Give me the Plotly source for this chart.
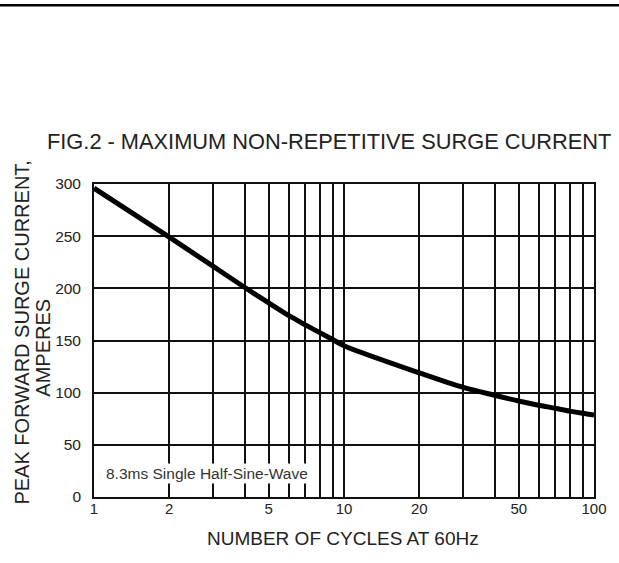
import plotly.graph_objects as go

# Data
cycles = [1, 2, 3, 4, 5, 6, 7, 8, 9, 10, 20, 30, 40, 50, 60, 70, 80, 90, 100]
surge_current = [296, 249, 221, 201, 186, 174, 165, 157.5, 151, 145,
                 119, 105, 97.5, 92, 88, 85, 82.3, 80.2, 78.5]

x_grid_vals = [1, 2, 3, 4, 5, 6, 7, 8, 9, 10, 20, 30, 40, 50, 60, 70, 80, 90, 100]
x_labeled = [1, 2, 5, 10, 20, 50, 100]
y_tick_vals = [0, 50, 100, 150, 200, 250, 300]

title_text = "FIG.2 - MAXIMUM NON-REPETITIVE SURGE CURRENT"
x_title = "NUMBER OF CYCLES AT 60Hz"
y_title_1 = "PEAK FORWARD SURGE CURRENT,"
y_title_2 = "AMPERES"
note_text = "8.3ms Single Half-Sine-Wave"

FONT = "Liberation Sans, Arial, sans-serif"
TXT = "#222222"
GRID = "#111111"

W, H = 619, 563
L, R, T, B = 94, 14, 184, 66
PW, PH = W - L - R, H - T - B


def px_x(X):
    return (X - L) / PW


def px_y(Y):
    return (H - B - Y) / PH


fig = go.Figure()
fig.add_trace(go.Scatter(
    x=cycles, y=surge_current, mode="lines",
    line=dict(color="black", width=5, shape="spline", smoothing=0.9),
    showlegend=False, hoverinfo="skip",
))

fig.update_layout(
    width=W, height=H, autosize=False,
    margin=dict(l=L, r=R, t=T, b=B),
    paper_bgcolor="white", plot_bgcolor="white",
    font=dict(family=FONT, color=TXT),
    xaxis=dict(
        type="log", range=[0, 2],
        tickvals=x_grid_vals,
        ticktext=[str(v) if v in x_labeled else "" for v in x_grid_vals],
        showgrid=True, gridcolor=GRID, gridwidth=1.5,
        showline=True, linecolor=GRID, linewidth=1.8, mirror=True,
        ticks="", ticklabelstandoff=-3,
        tickfont=dict(size=15, color=TXT, family=FONT),
        zeroline=False,
    ),
    yaxis=dict(
        range=[0, 300], tickvals=y_tick_vals,
        showgrid=True, gridcolor=GRID, gridwidth=1.5,
        showline=True, linecolor=GRID, linewidth=1.8, mirror=True,
        ticks="", ticklabelstandoff=8,
        tickfont=dict(size=15.5, color=TXT, family=FONT),
        zeroline=False,
    ),
)

# Title
fig.add_annotation(text=title_text, xref="paper", yref="paper",
                   x=px_x(334), y=px_y(141.5), xanchor="center", yanchor="middle",
                   showarrow=False, font=dict(size=21.8, color=TXT, family=FONT))
# X axis title
fig.add_annotation(text=x_title, xref="paper", yref="paper",
                   x=px_x(348), y=px_y(538), xanchor="center", yanchor="middle",
                   showarrow=False, font=dict(size=19, color=TXT, family=FONT))
# Y axis title (two lines)
fig.add_annotation(text=y_title_1, xref="paper", yref="paper",
                   x=px_x(20), y=px_y(333), xanchor="center", yanchor="middle",
                   textangle=-90, showarrow=False,
                   font=dict(size=20, color=TXT, family=FONT))
fig.add_annotation(text=y_title_2, xref="paper", yref="paper",
                   x=px_x(41), y=px_y(347.5), xanchor="center", yanchor="middle",
                   textangle=-90, showarrow=False,
                   font=dict(size=20, color=TXT, family=FONT))
# Note inside plot
fig.add_annotation(text=note_text, xref="paper", yref="paper",
                   x=px_x(104), y=px_y(473.5), xanchor="left", yanchor="middle",
                   showarrow=False, bgcolor="white", borderpad=1,
                   font=dict(size=15.5, color="#333333", family=FONT))

# Top rule of the page (spans the full width)
fig.add_shape(type="line", xref="paper", yref="paper",
              x0=px_x(-20), x1=px_x(W + 40), y0=px_y(5.3), y1=px_y(5.3),
              line=dict(color="black", width=2.5))

fig.write_html(
    "out.html",
    config={"displayModeBar": False, "responsive": False},
    post_script="document.body.style.margin='0';document.body.style.overflow='hidden';",
)
